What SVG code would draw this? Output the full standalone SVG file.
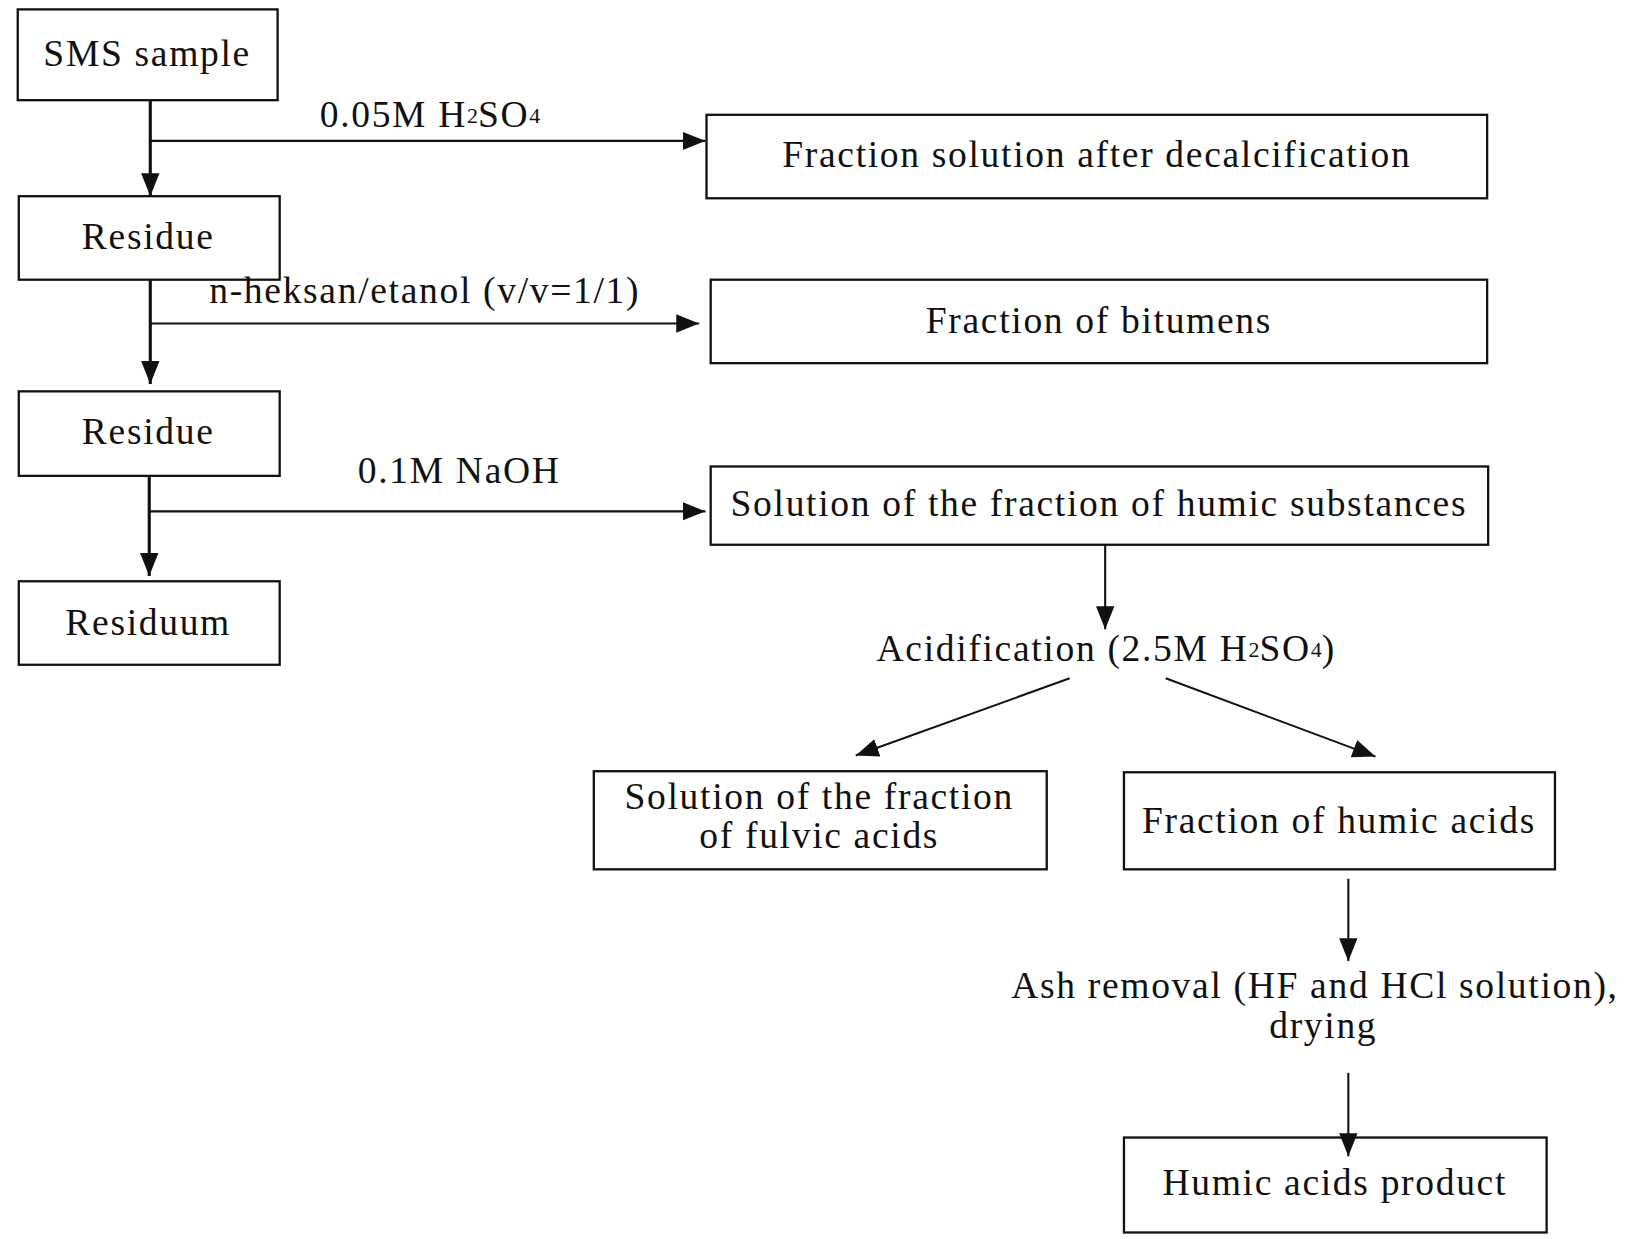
<svg xmlns="http://www.w3.org/2000/svg" width="1628" height="1239" viewBox="0 0 1628 1239">
<style>
rect{fill:#fff;stroke:#111;stroke-width:2.2}
text{font-family:"Liberation Serif",serif;font-size:36px;letter-spacing:1.6px;fill:#111;text-anchor:middle;dominant-baseline:middle}
.s{font-size:21px;letter-spacing:0}
line{stroke:#111;stroke-width:2}
.t{stroke-width:3}
</style>
<defs>
<marker id="b" viewBox="0 0 10 10" refX="10" refY="5" markerWidth="22" markerHeight="22" markerUnits="userSpaceOnUse" orient="auto"><path d="M0,1L10,5L0,9Z" fill="#111"/></marker></defs>
<rect width="1628" height="1239" style="stroke:none"/>
<g transform="scale(1.0436)">
<g id="n1"><rect x="17" y="9" width="249" height="87"/><text x="141" y="55">SMS sample</text></g>
<g id="n2"><rect x="18" y="188" width="250" height="80"/><text x="142" y="230">Residue</text></g>
<g id="n3"><rect x="18" y="375" width="250" height="81"/><text x="142" y="417">Residue</text></g>
<g id="n4"><rect x="18" y="557" width="250" height="80"/><text x="142" y="600">Residuum</text></g>
<g id="n5"><rect x="677" y="110" width="748" height="80"/><text x="1051" y="152">Fraction solution after decalcification</text></g>
<g id="n6"><rect x="681" y="268" width="744" height="80"/><text x="1053" y="311">Fraction of bitumens</text></g>
<g id="n7"><rect x="681" y="447" width="745" height="75"/><text x="1053" y="486">Solution of the fraction of humic substances</text></g>
<g id="n8"><text x="1060" y="625">Acidification (2.5M H<tspan class="s">2</tspan>SO<tspan class="s">4</tspan>)</text></g>
<g id="n9"><rect x="569" y="739" width="434" height="94"/><text x="785" y="767">Solution of the fraction</text><text x="785" y="804">of fulvic acids</text></g>
<g id="n10"><rect x="1077" y="740" width="413" height="93"/><text x="1283" y="790">Fraction of humic acids</text></g>
<g id="n11"><text x="1260" y="948">Ash removal (HF and HCl solution),</text><text x="1268" y="986">drying</text></g>
<g id="n12"><rect x="1077" y="1090" width="405" height="91"/><text x="1279" y="1137">Humic acids product</text></g>
<g id="connectors">
<line class="t" x1="144" y1="96" x2="144" y2="188" marker-end="url(#b)"/>
<line class="t" x1="144" y1="268" x2="144" y2="368" marker-end="url(#b)"/>
<line class="t" x1="143" y1="456" x2="143" y2="552" marker-end="url(#b)"/>
<line x1="144" y1="135" x2="676" y2="135" marker-end="url(#b)"/>
<line x1="144" y1="310" x2="670" y2="310" marker-end="url(#b)"/>
<line x1="143" y1="490" x2="676" y2="490" marker-end="url(#b)"/>
<line x1="1059" y1="522" x2="1059" y2="603" marker-end="url(#b)"/>
<line x1="1025" y1="650" x2="820" y2="724" marker-end="url(#b)"/>
<line x1="1117" y1="650" x2="1318" y2="725" marker-end="url(#b)"/>
<line x1="1292" y1="842" x2="1292" y2="921" marker-end="url(#b)"/>
<line x1="1292" y1="1028" x2="1292" y2="1108" marker-end="url(#b)"/>
<text x="412" y="113">0.05M H<tspan class="s">2</tspan>SO<tspan class="s">4</tspan></text>
<text x="407" y="282">n-heksan/etanol (v/v=1/1)</text>
<text x="440" y="455">0.1M NaOH</text>
</g>
</g>
</svg>
